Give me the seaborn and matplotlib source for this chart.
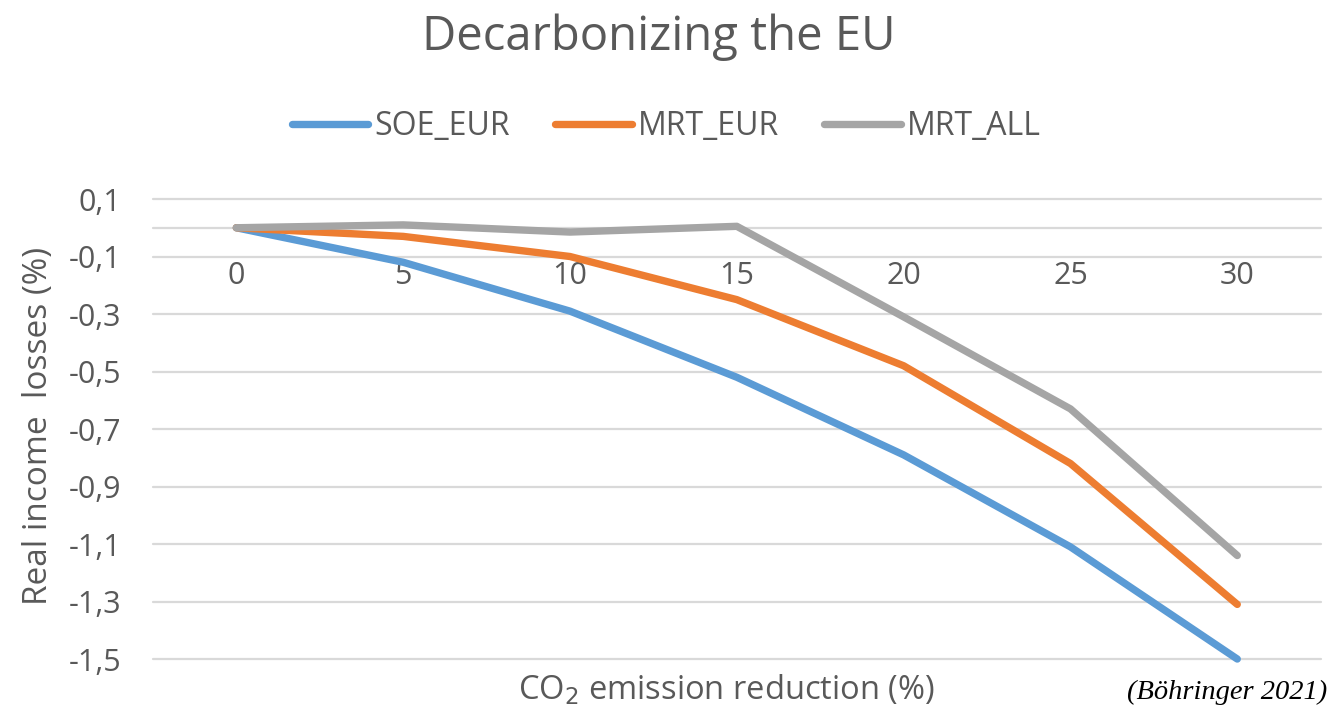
import pandas as pd
import seaborn as sns
import matplotlib.pyplot as plt
from matplotlib.ticker import FuncFormatter
from matplotlib.lines import Line2D

reduction = [0, 5, 10, 15, 20, 25, 30]
soe_eur = [0.0, -0.12, -0.29, -0.52, -0.79, -1.11, -1.50]
mrt_eur = [0.0, -0.03, -0.10, -0.25, -0.48, -0.82, -1.31]
mrt_all = [0.0, 0.01, -0.015, 0.005, -0.31, -0.63, -1.14]
series = ["SOE_EUR", "MRT_EUR", "MRT_ALL"]
colors = ["#5B9BD5", "#ED7D31", "#A5A5A5"]
y_ticks = [0.1, -0.1, -0.3, -0.5, -0.7, -0.9, -1.1, -1.3, -1.5]

sns.set_style("white")
plt.rcParams['font.family'] = ['Open Sans', 'DejaVu Sans']
txt = "#595959"

df = pd.DataFrame({
    "reduction": reduction * 3,
    "loss": soe_eur + mrt_eur + mrt_all,
    "series": [s for s in series for _ in reduction],
})

fig = plt.figure(figsize=(13.3, 7.12), dpi=100)
ax = fig.add_axes([0.115, 0.0744, 0.878, 0.6461])

# gridlines (incl. zero line)
for v in y_ticks + [0.0]:
    ax.axhline(v, color="#D9D9D9", lw=1.6, zorder=0, clip_on=False)

sns.lineplot(data=df, x="reduction", y="loss", hue="series", hue_order=series,
             palette=colors, linewidth=5.3, legend=False, ax=ax,
             solid_capstyle="round", solid_joinstyle="round", clip_on=False)

ax.set_xlim(-2.5, 32.5)
ax.set_ylim(-1.5, 0.1)
ax.set_yticks(y_ticks)
ax.yaxis.set_major_formatter(FuncFormatter(lambda v, p: f"{v:.1f}".replace(".", ",")))
ax.tick_params(axis="y", length=0, pad=23, labelsize=22, labelcolor=txt)
ax.set_xticks(reduction)
ax.spines["bottom"].set_position(("data", 0))
ax.tick_params(axis="x", length=0, pad=24, labelsize=22, labelcolor=txt)
for s in ax.spines.values():
    s.set_visible(False)
ax.set_xlabel("")
ax.set_ylabel("")

fig.text(0.029, 0.402, "Real income  losses (%)", rotation=90, ha="center", va="center",
         fontsize=24, color=txt)
fig.text(0.546, 0.031, "CO$_2$ emission reduction (%)", ha="center", va="center",
         fontsize=23.5, color=txt)
fig.text(0.495, 0.948, "Decarbonizing the EU", ha="center", va="center",
         fontsize=34, color=txt)
fig.text(0.998, 0.028, "(Böhringer 2021)", ha="right", va="center",
         fontsize=20.5, style="italic", family="Liberation Serif", color="black")

handles = [Line2D([0], [0], color=c, lw=5.3, solid_capstyle="round") for c in colors]
fig.legend(handles, series, loc="center", bbox_to_anchor=(0.501, 0.822), ncol=3,
           frameon=False, fontsize=23, labelcolor=txt, handlelength=2.4,
           handletextpad=0.2, columnspacing=1.4)

fig.savefig("out.png", dpi=100)
